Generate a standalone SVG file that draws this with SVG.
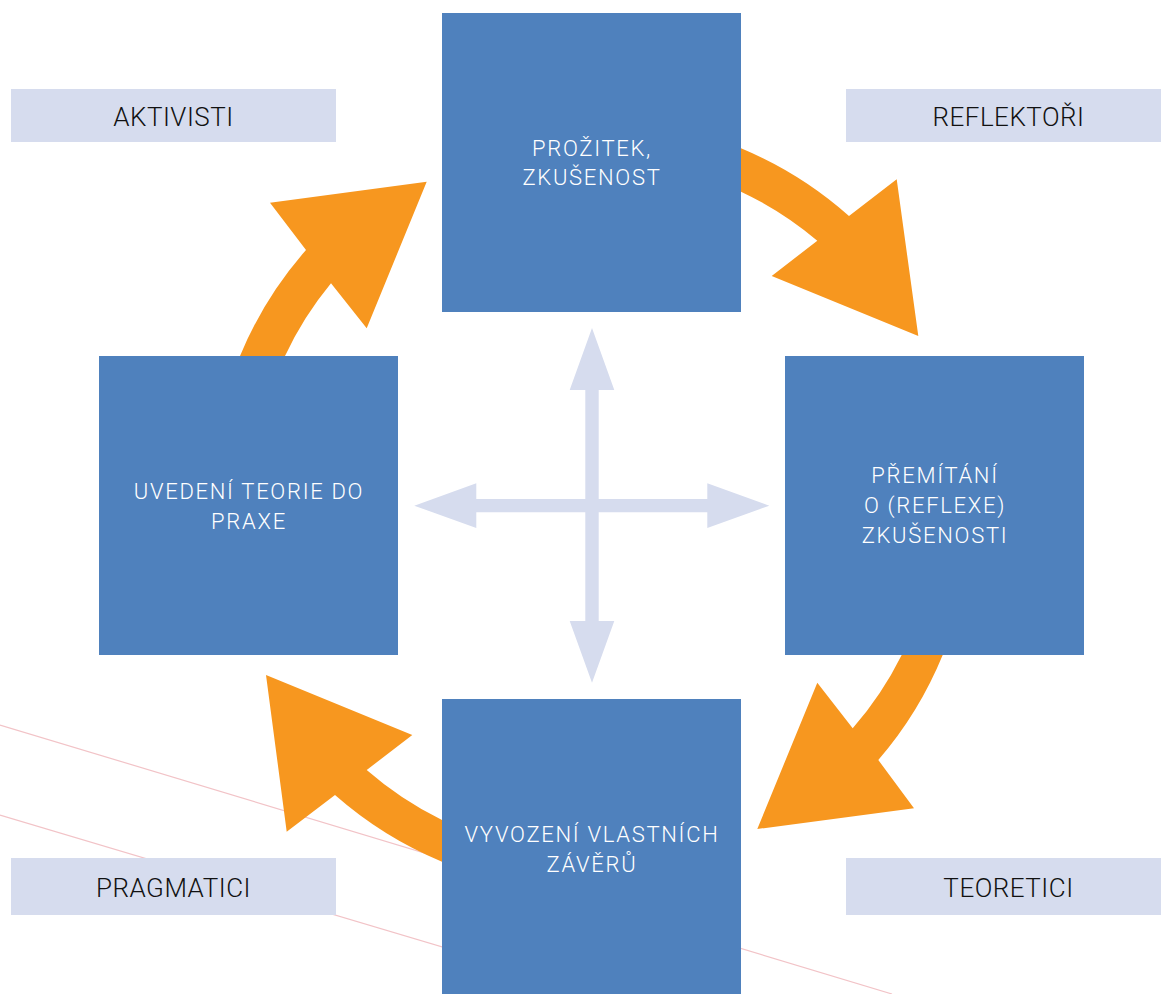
<svg xmlns="http://www.w3.org/2000/svg" width="1161" height="994" viewBox="0 0 1161 994">
  <style>
    .node { fill: #4F81BD; }
    .tag { fill: #D6DCEE; }
    .node-text { font-family: Roboto, "Liberation Sans", sans-serif; font-weight: 300; font-size: 22px; letter-spacing: 1.7px; fill: #FFFFFF; text-anchor: middle; }
    .tag-text { font-family: Roboto, "Liberation Sans", sans-serif; font-weight: 300; font-size: 26px; letter-spacing: 0.5px; fill: #111111; text-anchor: middle; }
    .cycle { fill: #F7971F; }
    .cross { fill: #D6DCEE; }
    .guide { stroke: #F2C3C7; stroke-width: 1.2; fill: none; }
  </style>

  <rect width="1161" height="994" fill="#FFFFFF"/>

  <!-- faint guide lines in the lower left -->
  <g id="guides">
    <line class="guide" x1="0" y1="725" x2="892" y2="994"/>
    <line class="guide" x1="0" y1="815" x2="600" y2="994"/>
  </g>

  <!-- learner-type labels -->
  <g id="tag-aktivisti">
    <rect class="tag" x="11" y="89" width="325" height="53"/>
    <text class="tag-text" x="173.5" y="125.5">AKTIVISTI</text>
  </g>
  <g id="tag-reflektori">
    <rect class="tag" x="846" y="89" width="325" height="53"/>
    <text class="tag-text" x="1008.5" y="125.5">REFLEKTOŘI</text>
  </g>
  <g id="tag-pragmatici">
    <rect class="tag" x="11" y="858" width="325" height="57"/>
    <text class="tag-text" x="173.5" y="896.5">PRAGMATICI</text>
  </g>
  <g id="tag-teoretici">
    <rect class="tag" x="846" y="858" width="325" height="57"/>
    <text class="tag-text" x="1008.5" y="896.5">TEORETICI</text>
  </g>

  <!-- connectors: curved cycle arrows and the central four-way arrow -->
  <g id="connectors">
    <!-- left box -> top box -->
    <path class="cycle" d="M 236 366 L 240 356 A 382 382 0 0 1 306 250 L 270 202.7 L 426.7 181.7 L 366.7 328.3 L 331 283.3 A 341 341 0 0 0 285 356 L 281 366 Z"/>
    <!-- top box -> right box -->
    <path class="cycle" d="M 730 146 L 741 148.3 A 387 387 0 0 1 849 216 L 896.7 179.3 L 918.3 336 L 771.7 276 L 817.3 240.7 A 348 348 0 0 0 741 191.7 L 730 188 Z"/>
    <!-- right box -> bottom box -->
    <path class="cycle" d="M 947 645 L 942.7 655 A 382 382 0 0 1 878.3 760 L 914 808.3 L 757.3 829 L 817.3 682.7 L 852.7 728.3 A 344 344 0 0 0 901.7 655 L 905 645 Z"/>
    <!-- bottom box -> left box -->
    <path class="cycle" d="M 452 865 L 442 861.7 A 386 386 0 0 1 335 795 L 286.7 831.7 L 266 675 L 412.3 735 L 366.7 770 A 347 347 0 0 0 442 820 L 452 823 Z"/>

    <!-- four-way arrow in the centre -->
    <polygon class="cross" points="592,328 614.3,390 598.7,390 598.7,499 707.3,499 707.3,483.3 769.3,505.7 707.3,528 707.3,512.3 598.7,512.3 598.7,621 614.3,621 592,682.7 569.7,621 585.3,621 585.3,512.3 476.3,512.3 476.3,528 414.3,505.7 476.3,483.3 476.3,499 585.3,499 585.3,390 569.7,390"/>
  </g>

  <!-- cycle stages -->
  <g id="node-prozitek">
    <rect class="node" x="442" y="13" width="299" height="299"/>
    <text class="node-text" x="592" y="155.5">PROŽITEK,</text>
    <text class="node-text" x="592" y="185">ZKUŠENOST</text>
  </g>
  <g id="node-premitani">
    <rect class="node" x="785" y="356" width="299" height="299"/>
    <text class="node-text" x="935" y="483">PŘEMÍTÁNÍ</text>
    <text class="node-text" x="935" y="513">O (REFLEXE)</text>
    <text class="node-text" x="935" y="543">ZKUŠENOSTI</text>
  </g>
  <g id="node-vyvozeni">
    <rect class="node" x="442" y="699" width="299" height="300"/>
    <text class="node-text" x="592" y="842">VYVOZENÍ VLASTNÍCH</text>
    <text class="node-text" x="592" y="871.5">ZÁVĚRŮ</text>
  </g>
  <g id="node-uvedeni">
    <rect class="node" x="99" y="356" width="299" height="299"/>
    <text class="node-text" x="249" y="498.5">UVEDENÍ TEORIE DO</text>
    <text class="node-text" x="249" y="529">PRAXE</text>
  </g>
</svg>
